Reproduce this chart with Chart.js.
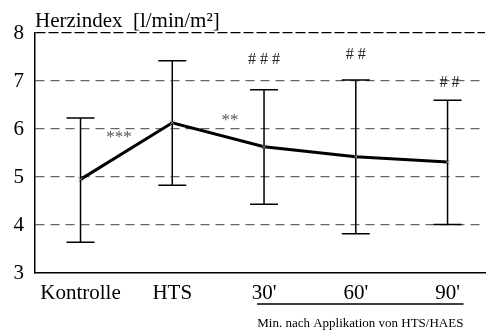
<!DOCTYPE html>
<html>
<head>
<meta charset="utf-8">
<script src="https://cdn.jsdelivr.net/npm/chart.js@4.4.0/dist/chart.umd.min.js"></script>
<style>
  html, body { margin: 0; padding: 0; background: #fff; }
  #wrap { width: 490px; height: 336px; position: relative; }
</style>
</head>
<body>
<div id="wrap"><canvas id="chart"></canvas></div>
<script>
const categories = ['Kontrolle', 'HTS', "30'", "60'", "90'"];
const means = [4.95, 6.13, 5.63, 5.42, 5.31];
const upper = [6.23, 7.42, 6.82, 7.02, 6.60];
const lower = [3.64, 4.83, 4.43, 3.82, 4.01];
const yTicks = [3, 4, 5, 6, 7, 8];
// significance marks: text, x value, y value
const marks = [
  { text: '***', x: 0.42, y: 5.83, color: '#555', size: 17 },
  { text: '**', x: 1.63, y: 6.18, color: '#555', size: 17 },
  { text: '# # #', x: 2.0, y: 7.45, color: '#222', size: 16 },
  { text: '# #', x: 3.0, y: 7.55, color: '#222', size: 16 },
  { text: '# #', x: 4.02, y: 6.97, color: '#222', size: 16 },
];

const serif = '"Liberation Serif", "DejaVu Serif", serif';

const extras = {
  id: 'extras',
  beforeDatasetsDraw(chart) {
    const { ctx, scales: { x, y } } = chart;
    ctx.save();
    ctx.strokeStyle = '#000';
    ctx.lineWidth = 1.5;
    means.forEach((m, i) => {
      const px = x.getPixelForValue(i);
      const top = y.getPixelForValue(upper[i]);
      const bot = y.getPixelForValue(lower[i]);
      ctx.beginPath();
      ctx.moveTo(px, top);
      ctx.lineTo(px, bot);
      ctx.moveTo(px - 14, top);
      ctx.lineTo(px + 14, top);
      ctx.moveTo(px - 14, bot);
      ctx.lineTo(px + 14, bot);
      ctx.stroke();
    });
    ctx.restore();
  },
  afterDraw(chart) {
    const { ctx, scales: { x, y } } = chart;
    ctx.save();
    ctx.textAlign = 'center';
    ctx.textBaseline = 'middle';
    marks.forEach(mk => {
      ctx.fillStyle = mk.color;
      ctx.font = mk.size + 'px ' + serif;
      ctx.fillText(mk.text, x.getPixelForValue(mk.x), y.getPixelForValue(mk.y));
    });

    // axis title
    ctx.textAlign = 'left';
    ctx.textBaseline = 'alphabetic';
    ctx.fillStyle = '#000';
    ctx.font = '21px ' + serif;
    ctx.fillText('Herzindex  [l/min/m\u00b2]', 35, 27);

    // bracket under minute labels
    const x0 = x.getPixelForValue(2) - 7;
    const x1 = x.getPixelForValue(4) + 16;
    ctx.strokeStyle = '#000';
    ctx.lineWidth = 1.5;
    ctx.beginPath();
    ctx.moveTo(x0, 304);
    ctx.lineTo(x1, 304);
    ctx.stroke();
    ctx.textAlign = 'center';
    ctx.textBaseline = 'middle';
    ctx.font = '13px ' + serif;
    ctx.fillText('Min. nach Applikation von HTS/HAES', (x0 + x1) / 2, 324);
    ctx.restore();
  }
};

new Chart(document.getElementById('chart'), {
  type: 'line',
  data: {
    datasets: [{
      data: means.map((v, i) => ({ x: i, y: v })),
      borderColor: '#000',
      borderWidth: 3,
      pointStyle: 'crossRot',
      pointRadius: 3,
      pointBorderColor: '#888',
      pointBorderWidth: 1,
      tension: 0,
    }],
  },
  options: {
    responsive: true,
    maintainAspectRatio: false,
    animation: false,
    layout: { padding: { top: 33, right: 1, left: 0, bottom: 0 } },
    plugins: { legend: { display: false }, tooltip: { enabled: false } },
    scales: {
      x: {
        type: 'linear',
        min: -0.496,
        max: 4.408,
        afterBuildTicks: (scale) => {
          scale.ticks = categories.map((c, i) => ({ value: i }));
        },
        afterFit: (scale) => { scale.height = 63; },
        grid: { display: false, drawTicks: false },
        border: { color: '#000', width: 1.5 },
        ticks: {
          color: '#000',
          padding: 8,
          maxRotation: 0,
          autoSkip: false,
          font: { family: serif, size: 21 },
          callback: (v) => categories[v],
        },
      },
      y: {
        min: 3,
        max: 8,
        afterBuildTicks: (scale) => {
          scale.ticks = yTicks.map(v => ({ value: v }));
        },
        afterFit: (scale) => { scale.width = 35; },
        grid: {
          drawTicks: false,
          lineWidth: 1.3,
          color: (ctx) => {
            const v = ctx.tick && ctx.tick.value;
            if (v === 3) return 'rgba(0,0,0,0)';
            if (v === 8) return '#000';
            return '#666';
          },
        },
        border: {
          color: '#000',
          width: 1.5,
          dash: (ctx) => (ctx.tick && ctx.tick.value === 8) ? [10, 3] : [9, 6],
        },
        ticks: {
          color: '#000',
          padding: 11,
          font: { family: serif, size: 21 },
        },
      },
    },
  },
  plugins: [extras],
});
</script>
</body>
</html>
